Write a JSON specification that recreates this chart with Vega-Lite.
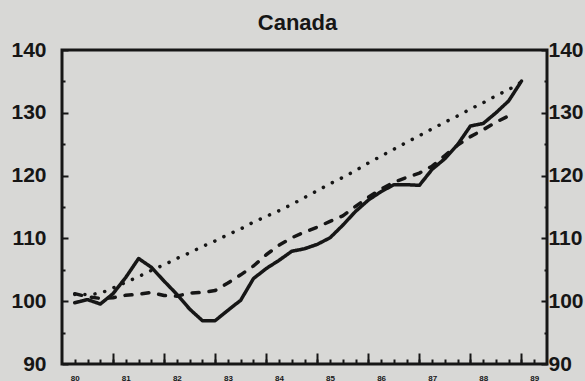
{
  "$schema": "https://vega.github.io/schema/vega-lite/v6.json",
  "width": 485,
  "height": 314,
  "autosize": "none",
  "padding": {"left": 62, "top": 50, "right": 38, "bottom": 17},
  "background": "#d8d8d6",
  "title": {
    "text": "Canada",
    "font": "Liberation Sans",
    "fontSize": 22,
    "fontWeight": "bold",
    "color": "#161616",
    "offset": 4,
    "dx": -7
  },
  "config": {
    "view": {"stroke": "#161616", "strokeWidth": 3},
    "axis": {
      "domain": false,
      "grid": false,
      "tickColor": "#161616",
      "tickWidth": 2,
      "labelColor": "#161616",
      "labelFont": "Liberation Sans",
      "labelFontWeight": "bold",
      "labelOverlap": false,
      "labelFlush": false
    }
  },
  "data": {
    "values": [
      {"t": 1980.0, "s": "actual", "v": 99.75},
      {"t": 1980.25, "s": "actual", "v": 100.25},
      {"t": 1980.5, "s": "actual", "v": 99.55},
      {"t": 1980.75, "s": "actual", "v": 101.2},
      {"t": 1981.0, "s": "actual", "v": 103.8},
      {"t": 1981.25, "s": "actual", "v": 106.8},
      {"t": 1981.5, "s": "actual", "v": 105.4},
      {"t": 1981.75, "s": "actual", "v": 103.2},
      {"t": 1982.0, "s": "actual", "v": 101.1},
      {"t": 1982.25, "s": "actual", "v": 98.75},
      {"t": 1982.5, "s": "actual", "v": 96.9},
      {"t": 1982.75, "s": "actual", "v": 96.9},
      {"t": 1983.0, "s": "actual", "v": 98.55},
      {"t": 1983.25, "s": "actual", "v": 100.15},
      {"t": 1983.5, "s": "actual", "v": 103.6},
      {"t": 1983.75, "s": "actual", "v": 105.2},
      {"t": 1984.0, "s": "actual", "v": 106.5},
      {"t": 1984.25, "s": "actual", "v": 107.95},
      {"t": 1984.5, "s": "actual", "v": 108.35},
      {"t": 1984.75, "s": "actual", "v": 109.05},
      {"t": 1985.0, "s": "actual", "v": 110.1},
      {"t": 1985.25, "s": "actual", "v": 112.1},
      {"t": 1985.5, "s": "actual", "v": 114.3},
      {"t": 1985.75, "s": "actual", "v": 116.1},
      {"t": 1986.0, "s": "actual", "v": 117.45},
      {"t": 1986.25, "s": "actual", "v": 118.55},
      {"t": 1986.5, "s": "actual", "v": 118.55},
      {"t": 1986.75, "s": "actual", "v": 118.45},
      {"t": 1987.0, "s": "actual", "v": 121.0},
      {"t": 1987.25, "s": "actual", "v": 122.7},
      {"t": 1987.5, "s": "actual", "v": 124.95},
      {"t": 1987.75, "s": "actual", "v": 127.9},
      {"t": 1988.0, "s": "actual", "v": 128.3},
      {"t": 1988.25, "s": "actual", "v": 130.0},
      {"t": 1988.5, "s": "actual", "v": 131.9},
      {"t": 1988.75, "s": "actual", "v": 135.05},

      {"t": 1980.0, "s": "estimate", "v": 101.2},
      {"t": 1980.25, "s": "estimate", "v": 100.7},
      {"t": 1980.5, "s": "estimate", "v": 100.45},
      {"t": 1980.75, "s": "estimate", "v": 100.55},
      {"t": 1981.0, "s": "estimate", "v": 100.95},
      {"t": 1981.25, "s": "estimate", "v": 101.1},
      {"t": 1981.5, "s": "estimate", "v": 101.4},
      {"t": 1981.75, "s": "estimate", "v": 100.9},
      {"t": 1982.0, "s": "estimate", "v": 100.8},
      {"t": 1982.25, "s": "estimate", "v": 101.3},
      {"t": 1982.5, "s": "estimate", "v": 101.4},
      {"t": 1982.75, "s": "estimate", "v": 101.7},
      {"t": 1983.0, "s": "estimate", "v": 102.9},
      {"t": 1983.25, "s": "estimate", "v": 104.2},
      {"t": 1983.5, "s": "estimate", "v": 105.6},
      {"t": 1983.75, "s": "estimate", "v": 107.4},
      {"t": 1984.0, "s": "estimate", "v": 108.9},
      {"t": 1984.25, "s": "estimate", "v": 110.1},
      {"t": 1984.5, "s": "estimate", "v": 111.0},
      {"t": 1984.75, "s": "estimate", "v": 111.8},
      {"t": 1985.0, "s": "estimate", "v": 112.7},
      {"t": 1985.25, "s": "estimate", "v": 113.6},
      {"t": 1985.5, "s": "estimate", "v": 115.1},
      {"t": 1985.75, "s": "estimate", "v": 116.55},
      {"t": 1986.0, "s": "estimate", "v": 117.85},
      {"t": 1986.25, "s": "estimate", "v": 118.95},
      {"t": 1986.5, "s": "estimate", "v": 119.7},
      {"t": 1986.75, "s": "estimate", "v": 120.4},
      {"t": 1987.0, "s": "estimate", "v": 121.5},
      {"t": 1987.25, "s": "estimate", "v": 123.2},
      {"t": 1987.5, "s": "estimate", "v": 124.85},
      {"t": 1987.75, "s": "estimate", "v": 126.2},
      {"t": 1988.0, "s": "estimate", "v": 127.3},
      {"t": 1988.25, "s": "estimate", "v": 128.5},
      {"t": 1988.5, "s": "estimate", "v": 129.5},

      {"t": 1980.0, "s": "trend", "v": 101.05},
      {"t": 1980.25, "s": "trend", "v": 101.05},
      {"t": 1980.5, "s": "trend", "v": 101.25},
      {"t": 1980.75, "s": "trend", "v": 102.1},
      {"t": 1981.0, "s": "trend", "v": 103.0},
      {"t": 1981.25, "s": "trend", "v": 103.9},
      {"t": 1981.5, "s": "trend", "v": 104.9},
      {"t": 1981.75, "s": "trend", "v": 105.8},
      {"t": 1982.0, "s": "trend", "v": 106.8},
      {"t": 1982.25, "s": "trend", "v": 107.7},
      {"t": 1982.5, "s": "trend", "v": 108.7},
      {"t": 1982.75, "s": "trend", "v": 109.6},
      {"t": 1983.0, "s": "trend", "v": 110.6},
      {"t": 1983.25, "s": "trend", "v": 111.5},
      {"t": 1983.5, "s": "trend", "v": 112.6},
      {"t": 1983.75, "s": "trend", "v": 113.5},
      {"t": 1984.0, "s": "trend", "v": 114.4},
      {"t": 1984.25, "s": "trend", "v": 115.4},
      {"t": 1984.5, "s": "trend", "v": 116.5},
      {"t": 1984.75, "s": "trend", "v": 117.6},
      {"t": 1985.0, "s": "trend", "v": 118.7},
      {"t": 1985.25, "s": "trend", "v": 119.7},
      {"t": 1985.5, "s": "trend", "v": 120.8},
      {"t": 1985.75, "s": "trend", "v": 122.0},
      {"t": 1986.0, "s": "trend", "v": 123.1},
      {"t": 1986.25, "s": "trend", "v": 124.2},
      {"t": 1986.5, "s": "trend", "v": 125.3},
      {"t": 1986.75, "s": "trend", "v": 126.35},
      {"t": 1987.0, "s": "trend", "v": 127.45},
      {"t": 1987.25, "s": "trend", "v": 128.5},
      {"t": 1987.5, "s": "trend", "v": 129.5},
      {"t": 1987.75, "s": "trend", "v": 130.6},
      {"t": 1988.0, "s": "trend", "v": 131.6},
      {"t": 1988.25, "s": "trend", "v": 132.7},
      {"t": 1988.5, "s": "trend", "v": 133.7},
      {"t": 1988.75, "s": "trend", "v": 134.9}
    ]
  },
  "layer": [
    {
      "mark": {"type": "line", "color": "#161616", "strokeWidth": 3.5, "strokeCap": "round", "strokeJoin": "round"},
      "encoding": {
        "x": {
          "field": "t", "type": "quantitative",
          "scale": {"domain": [1979.75, 1989.25], "nice": false, "zero": false},
          "axis": {
            "title": null,
            "orient": "bottom",
            "values": [1980, 1980.25, 1980.5, 1980.75, 1981, 1981.25, 1981.5, 1981.75, 1982, 1982.25, 1982.5, 1982.75, 1983, 1983.25, 1983.5, 1983.75, 1984, 1984.25, 1984.5, 1984.75, 1985, 1985.25, 1985.5, 1985.75, 1986, 1986.25, 1986.5, 1986.75, 1987, 1987.25, 1987.5, 1987.75, 1988, 1988.25, 1988.5, 1988.75, 1989],
            "labelExpr": "datum.value % 1 === 0 ? slice(toString(datum.value), 2) : ''",
            "tickSize": -5,
            "labelPadding": 15,
            "labelFontSize": 8
          }
        },
        "y": {
          "field": "v", "type": "quantitative",
          "scale": {"domain": [90, 140], "nice": false, "zero": false},
          "axis": {
            "title": null,
            "orient": "left",
            "values": [90, 100, 110, 120, 130, 140],
            "tickSize": -6,
            "labelPadding": 22,
            "labelFontSize": 21
          }
        },
        "strokeDash": {
          "field": "s", "type": "nominal",
          "scale": {"domain": ["actual", "estimate", "trend"], "range": [[1, 0], [7, 10], [0.1, 10]]},
          "legend": null
        }
      }
    },
    {
      "mark": {"type": "point", "opacity": 0},
      "encoding": {
        "x": {
          "field": "t", "type": "quantitative",
          "axis": {
            "title": null,
            "orient": "bottom",
            "values": [1980.75, 1981.75, 1982.75, 1983.75, 1984.75, 1985.75, 1986.75, 1987.75, 1988.75],
            "labels": false,
            "tickSize": -11
          }
        },
        "y": {
          "field": "v", "type": "quantitative",
          "axis": {
            "title": null,
            "orient": "right",
            "values": [90, 100, 110, 120, 130, 140],
            "tickSize": -6,
            "labelPadding": 7,
            "labelFontSize": 21
          }
        }
      }
    },
    {
      "mark": {"type": "point", "opacity": 0},
      "encoding": {
        "x": {"field": "t", "type": "quantitative", "axis": null},
        "y": {
          "field": "v", "type": "quantitative",
          "axis": {"title": null, "orient": "left", "values": [95, 105, 115, 125, 135], "labels": false, "tickSize": -3}
        }
      }
    },
    {
      "mark": {"type": "point", "opacity": 0},
      "encoding": {
        "x": {"field": "t", "type": "quantitative", "axis": null},
        "y": {
          "field": "v", "type": "quantitative",
          "axis": {"title": null, "orient": "right", "values": [95, 105, 115, 125, 135], "labels": false, "tickSize": -3}
        }
      }
    }
  ],
  "resolve": {"axis": {"x": "independent", "y": "independent"}}
}
